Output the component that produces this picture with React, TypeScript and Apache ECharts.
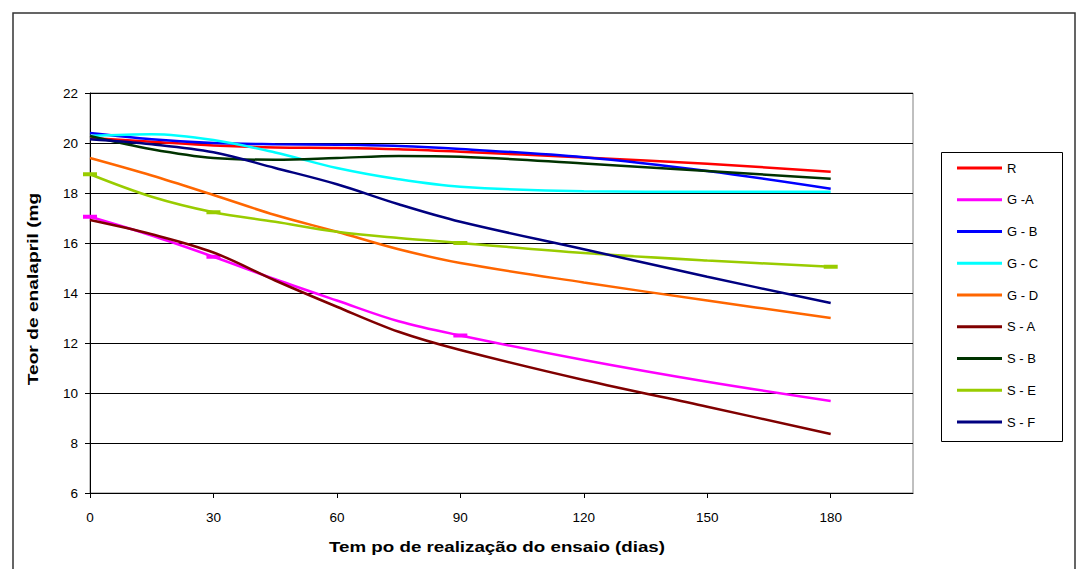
import React, { useEffect, useRef } from "react";
import * as echarts from "echarts";

const days = [0, 15, 30, 45, 60, 75, 90, 120, 150, 180];
const names = ["R", "G -A", "G - B", "G - C", "G - D", "S - A", "S - B", "S - E", "S - F"];
const colors = ["#FF0000", "#FF00FF", "#0000FF", "#00FFFF", "#FF6600", "#800000", "#003300", "#99CC00", "#000080"];

const R = [20.2, 20.05, 19.9, 19.82, 19.8, 19.75, 19.65, 19.42, 19.17, 18.85];
const GA = [17.05, 16.3, 15.45, 14.55, 13.7, 12.87, 12.3, 11.32, 10.45, 9.68];
const GB = [20.4, 20.15, 20.0, 19.95, 19.93, 19.88, 19.76, 19.43, 18.88, 18.17];
const GC = [20.28, 20.35, 20.12, 19.62, 19.0, 18.55, 18.25, 18.07, 18.05, 18.05];
const GD = [19.4, 18.7, 17.92, 17.12, 16.45, 15.75, 15.2, 14.42, 13.7, 13.0];
const SA = [16.92, 16.35, 15.62, 14.5, 13.45, 12.45, 11.72, 10.52, 9.45, 8.36];
const SB = [20.28, 19.75, 19.4, 19.33, 19.4, 19.48, 19.45, 19.18, 18.88, 18.57];
const SE = [18.75, 17.85, 17.23, 16.85, 16.45, 16.2, 16.0, 15.6, 15.3, 15.05];
const SF = [20.15, 19.95, 19.63, 19.0, 18.35, 17.55, 16.85, 15.75, 14.65, 13.6];

const seriesValues = [R, GA, GB, GC, GD, SA, SB, SE, SF];
// indices of points that carry a dash marker (only G -A and S - E)
const markerPoints: Record<string, number[]> = {
  "G -A": [0, 2, 6],
  "S - E": [0, 2, 6, 9],
};

const FONT = "'Liberation Sans', Arial, sans-serif";

export default function App() {
  const ref = useRef<HTMLDivElement>(null);

  useEffect(() => {
    if (!ref.current) return;
    const chart = echarts.init(ref.current, null, { renderer: "svg" });

    const series = names.map((name, i) => {
      const marks = markerPoints[name];
      const data = days.map((d, j) => {
        const item: any = { value: [d, seriesValues[i][j]] };
        if (marks && !marks.includes(j)) item.symbol = "none";
        return item;
      });
      return {
        name,
        type: "line",
        data,
        smooth: 0.35,
        showSymbol: !!marks,
        symbol: marks ? "rect" : "none",
        symbolSize: [14, 4],
        itemStyle: { color: colors[i] },
        lineStyle: { color: colors[i], width: 2.5 },
        emphasis: { disabled: true },
        z: 3 + i,
      };
    });

    chart.setOption({
      animation: false,
      textStyle: { fontFamily: FONT },
      grid: {
        left: 90,
        top: 93,
        right: 174,
        bottom: 76,
        show: true,
        borderColor: "#808080",
        borderWidth: 1,
      },
      xAxis: {
        type: "value",
        min: 0,
        max: 200,
        interval: 30,
        axisLine: { show: true, lineStyle: { color: "#000", width: 1 } },
        axisTick: { show: true, inside: false, length: 5, lineStyle: { color: "#000" } },
        axisLabel: { color: "#000", fontSize: 13.5, margin: 17, fontFamily: FONT, showMaxLabel: false },
        splitLine: { show: false },
      },
      yAxis: {
        type: "value",
        min: 6,
        max: 22,
        interval: 2,
        axisLine: { show: true, lineStyle: { color: "#000", width: 1 } },
        axisTick: { show: true, inside: false, length: 5, lineStyle: { color: "#000" } },
        axisLabel: { color: "#000", fontSize: 13.5, margin: 12, fontFamily: FONT },
        splitLine: { show: true, lineStyle: { color: "#000", width: 1 } },
      },
      legend: {
        orient: "vertical",
        left: 941,
        top: 152,
        padding: [9, 14, 12, 16],
        icon: "rect",
        itemWidth: 45,
        itemHeight: 3,
        itemGap: 17.75,
        data: names,
        textStyle: { color: "#000", fontSize: 13, lineHeight: 14, fontFamily: FONT },
        selectedMode: false,
      },
      graphic: [
        {
          type: "rect",
          shape: { x: 13, y: 13, width: 1062, height: 620 },
          style: { fill: "none", stroke: "#333", lineWidth: 1.5 },
          silent: true,
        },
        {
          type: "rect",
          shape: { x: 941.5, y: 152.5, width: 121, height: 289 },
          style: { fill: "none", stroke: "#000", lineWidth: 1 },
          silent: true,
        },
        {
          type: "text",
          x: 33,
          y: 289,
          rotation: Math.PI / 2,
          scaleX: 1.28,
          style: {
            text: "Teor de enalapril (mg",
            fill: "#000",
            font: `bold 15px ${FONT}`,
            align: "center",
            verticalAlign: "middle",
          },
        },
        {
          type: "text",
          x: 497,
          y: 547,
          scaleX: 1.25,
          style: {
            text: "Tem po de realização do ensaio (dias)",
            fill: "#000",
            font: `bold 15px ${FONT}`,
            align: "center",
            verticalAlign: "middle",
          },
        },
      ],
      series,
    });

    return () => chart.dispose();
  }, []);

  return (
    <div
      ref={ref}
      style={{ position: "absolute", left: 0, top: 0, width: 1087, height: 569, background: "#fff" }}
    />
  );
}
